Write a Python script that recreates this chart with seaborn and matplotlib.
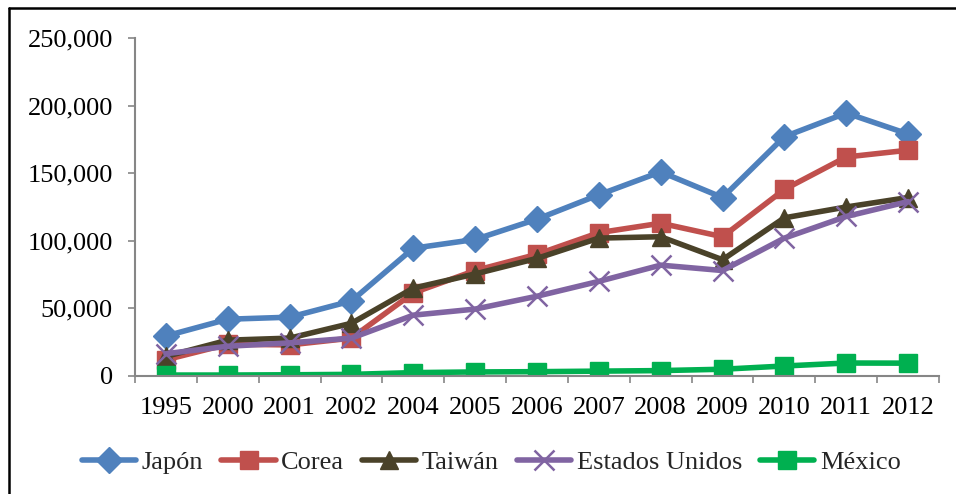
import matplotlib
matplotlib.use("Agg")
import matplotlib.pyplot as plt
from matplotlib.lines import Line2D
from matplotlib.ticker import FuncFormatter, FixedLocator
import numpy as np
import pandas as pd
import seaborn as sns

# ── Datos ─────────────────────────────────────────────────────────────────────
years = ["1995", "2000", "2001", "2002", "2004", "2005", "2006",
         "2007", "2008", "2009", "2010", "2011", "2012"]
japon = [29600, 42000, 43500, 55500, 94500, 101000, 116000,
         134000, 151000, 132000, 177000, 194500, 179000]
corea = [12000, 23500, 23000, 28000, 61500, 78000, 90000,
         106000, 113000, 103000, 138000, 162000, 167000]
taiwan = [14500, 26500, 28000, 39000, 65000, 75500, 87000,
          102000, 103000, 86000, 117000, 125000, 132000]
eeuu = [16500, 22000, 24500, 28000, 45000, 49500, 59000,
        70000, 82000, 78000, 102000, 118000, 129000]
mexico = [700, 700, 900, 1200, 2500, 3000, 3200,
          3600, 4000, 5000, 7400, 9600, 9500]

series = {"Japón": japon, "Corea": corea, "Taiwán": taiwan,
          "Estados Unidos": eeuu, "México": mexico}
colors = {"Japón": "#4F81BD", "Corea": "#C0504D", "Taiwán": "#4A4229",
          "Estados Unidos": "#8064A2", "México": "#00B050"}
markers = {"Japón": "D", "Corea": "s", "Taiwán": "^",
           "Estados Unidos": "x", "México": "s"}
msize = {"Japón": 13, "Corea": 13, "Taiwán": 13.5,
         "Estados Unidos": 14, "México": 13.5}

rows = []
for name, vals in series.items():
    for i, v in enumerate(vals):
        rows.append({"pos": i, "valor": v, "pais": name})
df = pd.DataFrame(rows)

# ── Figura ────────────────────────────────────────────────────────────────────
sns.set_theme(style="white")
plt.rcParams["font.family"] = ["Liberation Serif", "DejaVu Serif"]

fig = plt.figure(figsize=(9.56, 4.94), dpi=100)
ax = fig.add_axes([135 / 956, 1 - 376 / 494, (939 - 135) / 956, (376 - 38) / 494])

for name in series:
    sub = df[df["pais"] == name]
    sns.lineplot(data=sub, x="pos", y="valor", ax=ax, color=colors[name],
                 lw=4, marker=markers[name], markersize=msize[name],
                 markeredgewidth=1.8 if name == "Estados Unidos" else 1,
                 markeredgecolor=colors[name], label=name)

ax.set_xlim(-0.5, len(years) - 0.5)
ax.set_ylim(0, 250000)
ax.set_xlabel("")
ax.set_ylabel("")

ax.set_xticks(range(len(years)))
ax.set_xticklabels(years)
ax.xaxis.set_minor_locator(FixedLocator(np.arange(-0.5, len(years), 1.0)))
ax.set_yticks(np.arange(0, 250001, 50000))
ax.yaxis.set_major_formatter(FuncFormatter(lambda v, p: f"{int(v):,}"))

ax.tick_params(axis="x", which="major", length=0, labelsize=19, pad=15, colors="black")
ax.tick_params(axis="x", which="minor", bottom=True, length=5, width=1.2, color="#868686")
ax.tick_params(axis="y", which="major", left=True, length=5, width=1.2,
               color="#868686", labelsize=19, labelcolor="black", pad=11)

for side in ["top", "right"]:
    ax.spines[side].set_visible(False)
for side in ["left", "bottom"]:
    ax.spines[side].set_color("#868686")
    ax.spines[side].set_linewidth(1.5)

ax.get_legend().remove()
handles, labels = ax.get_legend_handles_labels()
fig.legend(handles, labels, loc="center", bbox_to_anchor=(0.514, 1 - 462 / 494),
           ncol=5, frameon=False, fontsize=19, handlelength=2.05,
           handletextpad=0.2, columnspacing=0.7)

# marco (solo visible arriba e izquierda)
fig.add_artist(Line2D([8.5 / 956, 8.5 / 956], [0, 1 - 8.5 / 494],
                      transform=fig.transFigure, color="black", lw=1.8))
fig.add_artist(Line2D([8.5 / 956, 1], [1 - 8.5 / 494, 1 - 8.5 / 494],
                      transform=fig.transFigure, color="black", lw=1.8))

fig.savefig("out.png", dpi=100)
plt.close(fig)
